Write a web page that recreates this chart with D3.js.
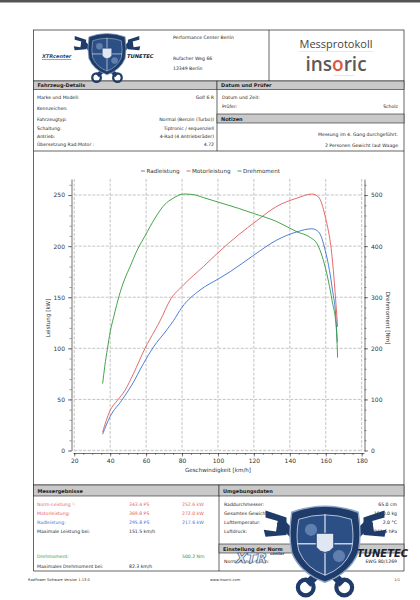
<!DOCTYPE html>
<html>
<head>
<meta charset="utf-8">
<script src="https://cdn.jsdelivr.net/npm/d3@7"></script>
<style>
  body { margin: 0; background: #fff; }
  text { font-family: "DejaVu Sans", Verdana, sans-serif; }
</style>
</head>
<body>
<div id="page"></div>
<script>
// ---- chart data (read from the protocol) ----
const radSpeed = [35.8, 39.9, 46.4, 52.0, 58.5, 64.0, 71.5, 75.2, 79.9, 90.0, 100.3, 106.8, 119.8, 132.8, 144.0, 152.3, 156.0, 159.7, 163.5, 165.9, 166.4];
const radKW    = [16, 33, 49, 64, 85, 101, 118, 127, 140, 157, 168, 175, 191, 206, 214, 217, 214, 196, 160, 123, 106];

const motorSpeed = [35.8, 39.9, 44.0, 48.3, 52.9, 59.4, 65.0, 67.8, 73.3, 80.8, 91.9, 100.3, 111.4, 121.7, 132.8, 144.0, 152.3, 156.0, 159.7, 163.5, 166.2, 166.6];
const motorKW    = [18, 39, 49, 59, 75, 100, 118, 127, 147, 162, 180, 194, 211, 225, 239, 247, 251, 248, 229, 190, 131, 121];

const torqueSpeed = [35.8, 37.0, 38.5, 40.0, 42.0, 45.0, 48.0, 51.1, 55.0, 59.4, 65.0, 70.0, 75.2, 80.8, 86.0, 91.9, 100.3, 111.4, 119.8, 132.8, 144.0, 151.4, 155.1, 159.7, 163.5, 165.9, 166.6];
const torqueNm    = [131, 165, 200, 232, 262, 303, 335, 360, 392, 420, 455, 480, 494, 502, 501, 495, 486, 474, 464, 448, 428, 417, 405, 359, 294, 239, 182];

const xTicks  = [20, 40, 60, 80, 100, 120, 140, 160, 180];
const kwTicks = [0, 50, 100, 150, 200, 250];
const nmTicks = [0, 100, 200, 300, 400, 500];
const legendLabels = ["Radleistung", "Motorleistung", "Drehmoment"];

// ---- table texts ----
const vehicleLabels = ["Marke und Modell:", "Kennzeichen:", "Fahrzeugtyp:", "Schaltung:", "Antrieb:", "Übersetzung Rad:Motor :"];
const vehicleValues = ["Golf 6 R", "", "Normal (Benzin (Turbo))", "Tiptronic / sequenziell", "4-Rad (4 Antriebsräder)", "4.72"];
const testerLabels = ["Datum und Zeit:", "Prüfer:"];
const testerValues = ["", "Scholz"];
const notes = ["Messung im 4. Gang durchgeführt.", "2 Personen Gewicht laut Waage"];

const resultLabels = ["Norm-Leistung ¹:", "Motorleistung:", "Radleistung:", "Maximale Leistung bei:", "", "Drehmoment:", "Maximales Drehmoment bei:"];
const resultPS     = ["343.4 PS", "369.8 PS", "295.8 PS", "151.5 km/h", "", "", "82.3 km/h"];
const resultKW     = ["252.6 kW", "272.0 kW", "217.6 kW", "", "", "500.2 Nm", ""];
const envLabels = ["Raddurchmesser:", "Gesamtes Gewicht:", "Lufttemperatur:", "Luftdruck:"];
const envValues = ["65.0 cm", "1640.0 kg", "2.0 °C", "1011.6 hPa"];
const normLabels = ["Normierungs-Norm:"];
const normValues = ["EWG 80/1269"];

const blue = "#3c6fd1", red = "#e05a5a", green = "#2f9a35";

const svg = d3.select("#page").append("svg")
    .attr("width", 420)
    .attr("height", 600);

svg.append("rect").attr("width", 420).attr("height", 2.5).attr("fill", "#555");

// ---------- frame & table skeleton ----------
const L = 33.5, R = 404, MID = 217, MID2 = 219;
const frame = svg.append("g").attr("stroke", "#222").attr("stroke-width", 0.7).attr("fill", "none");

function greyBand(x1, x2, y1, y2, label) {
    svg.append("rect")
        .attr("x", x1).attr("y", y1).attr("width", x2 - x1).attr("height", y2 - y1)
        .attr("fill", "#c9c9c9").attr("stroke", "#222").attr("stroke-width", 0.6);
    svg.append("text")
        .attr("x", x1 + 4).attr("y", (y1 + y2) / 2 + 2)
        .attr("font-size", 5).attr("font-weight", "bold").attr("fill", "#222")
        .text(label);
}

frame.append("rect").attr("x", L).attr("y", 30).attr("width", R - L).attr("height", 51);
frame.append("line").attr("x1", 269).attr("x2", 269).attr("y1", 30).attr("y2", 81);
frame.append("line").attr("x1", L).attr("x2", L).attr("y1", 81).attr("y2", 571);
frame.append("line").attr("x1", R).attr("x2", R).attr("y1", 81).attr("y2", 571);
frame.append("line").attr("x1", MID).attr("x2", MID).attr("y1", 81).attr("y2", 151);
frame.append("line").attr("x1", L).attr("x2", R).attr("y1", 151).attr("y2", 151);
frame.append("line").attr("x1", L).attr("x2", R).attr("y1", 485).attr("y2", 485);
frame.append("line").attr("x1", MID2).attr("x2", MID2).attr("y1", 485).attr("y2", 571);
frame.append("line").attr("x1", L).attr("x2", R).attr("y1", 571).attr("y2", 571);

greyBand(L, MID, 81, 89.5, "Fahrzeug-Details");
greyBand(MID, R, 81, 89.5, "Datum und Prüfer");
greyBand(MID, R, 114, 123, "Notizen");
greyBand(L, MID2, 485, 496, "Messergebnisse");
greyBand(MID2, R, 485, 496, "Umgebungsdaten");
greyBand(MID2, R, 544, 553, "Einstellung der Norm");

function rows(labels, values, xl, xr, ys, colors) {
    labels.forEach((t, i) => {
        let c = colors ? colors[i] : "#222";
        svg.append("text").attr("x", xl).attr("y", ys[i] + 2)
            .attr("font-size", 4.6).attr("fill", c).text(t);
        svg.append("text").attr("x", xr).attr("y", ys[i] + 2)
            .attr("font-size", 4.6).attr("fill", c).attr("text-anchor", "end").text(values[i]);
    });
}

rows(vehicleLabels, vehicleValues, 37, 214, [97, 108, 119, 128, 136, 144]);
rows(testerLabels, testerValues, 222, 398, [97, 106]);
notes.forEach((t, i) => {
    svg.append("text").attr("x", 398).attr("y", [134, 145][i] + 2)
        .attr("font-size", 4.6).attr("fill", "#222").attr("text-anchor", "end").text(t);
});

const resultColors = ["#e06a6a", red, blue, "#222", "#222", green, "#222"];
const resultY = [504, 513, 522, 531, 544, 556, 566];
resultLabels.forEach((t, i) => {
    let g = svg.append("g").attr("font-size", 4.6).attr("fill", resultColors[i]);
    g.append("text").attr("x", 37).attr("y", resultY[i] + 2).text(t);
    g.append("text").attr("x", 129).attr("y", resultY[i] + 2).text(resultPS[i]);
    g.append("text").attr("x", 182).attr("y", resultY[i] + 2).text(resultKW[i]);
});
rows(envLabels, envValues, 224, 397, [504, 513, 522, 531]);
rows(normLabels, normValues, 224, 397, [561]);

// footer
svg.append("text").attr("x", 28).attr("y", 581).attr("font-size", 3.6).attr("fill", "#333").text("RadPower Software Version 1.13.0");
svg.append("text").attr("x", 210).attr("y", 581).attr("font-size", 3.6).attr("fill", "#333").text("www.insoric.com");
svg.append("text").attr("x", 400).attr("y", 581).attr("font-size", 3.6).attr("fill", "#333").attr("text-anchor", "end").text("1/1");

// ---------- header ----------
svg.append("text").attr("x", 173).attr("y", 39).attr("font-size", 4.6).attr("fill", "#222").text("Performance Center Berlin");
svg.append("text").attr("x", 173).attr("y", 60).attr("font-size", 4.6).attr("fill", "#222").text("Rufacher Weg 66");
svg.append("text").attr("x", 173).attr("y", 70).attr("font-size", 4.6).attr("fill", "#222").text("12349 Berlin");

svg.append("text").attr("x", 336).attr("y", 48).attr("text-anchor", "middle")
    .attr("font-size", 11).attr("fill", "#444").style("font-family", "'Open Sans', sans-serif")
    .text("Messprotokoll");
svg.append("line").attr("x1", 298).attr("x2", 374).attr("y1", 51.5).attr("y2", 51.5)
    .attr("stroke", "#ddd").attr("stroke-width", 0.6);
let ins = svg.append("text").attr("x", 336).attr("y", 71).attr("text-anchor", "middle")
    .attr("font-size", 19).attr("fill", "#5a5a5a").style("font-family", "'Open Sans', sans-serif")
    .attr("font-weight", 600);
ins.append("tspan").text("ins");
ins.append("tspan").attr("fill", "#e2553b").text("o");
ins.append("tspan").text("ric");
svg.append("text").attr("x", 344).attr("y", 75.5).attr("text-anchor", "middle")
    .attr("font-size", 1.6).attr("fill", "#999").text("with precision measuring");

// ---------- logos ----------
function drawLogo(cx, cy, s) {
    let g = svg.append("g").attr("transform", `translate(${cx},${cy}) scale(${s})`);
    let navy = "#1f3b69";
    // wrenches (crossed, jaws at top, rings at bottom)
    [-1, 1].forEach(d => {
        g.append("path")
            .attr("d", `M ${d * 26},-12 L ${-d * 10},24`)
            .attr("stroke", navy).attr("stroke-width", 4.5);
        g.append("path")
            .attr("d", `M ${d * 22},-14 L ${d * 34},-18 L ${d * 34},-14 L ${d * 27},-12 L ${d * 28},-6 L ${d * 35},-7 L ${d * 34},-3 L ${d * 22},-4 Z`)
            .attr("fill", navy);
        g.append("circle").attr("cx", -d * 11).attr("cy", 26).attr("r", 4.5)
            .attr("fill", "none").attr("stroke", navy).attr("stroke-width", 2.4);
    });
    // shield
    g.append("path")
        .attr("d", "M -19,-17 Q 0,-24 19,-17 Q 21,-4 19,6 Q 14,18 0,23 Q -14,18 -19,6 Q -21,-4 -19,-17 Z")
        .attr("fill", navy).attr("stroke", "#8ea6c8").attr("stroke-width", 0.8);
    g.append("path")
        .attr("d", "M -15,-13 Q 0,-18 15,-13 Q 17,-3 15,5 Q 11,15 0,19 Q -11,15 -15,5 Q -17,-3 -15,-13 Z")
        .attr("fill", "#2c4f86").attr("stroke", "#c3d2e6").attr("stroke-width", 0.5);
    g.append("line").attr("x1", -16).attr("x2", 16).attr("y1", 1).attr("y2", 1).attr("stroke", "#c3d2e6").attr("stroke-width", 0.8);
    g.append("line").attr("x1", 0).attr("x2", 0).attr("y1", -16).attr("y2", 19).attr("stroke", "#c3d2e6").attr("stroke-width", 0.8);
    g.append("path")
        .attr("d", "M -5,-5 L 5,-5 L 5,3 Q 0,9 -5,3 Z")
        .attr("fill", "#dfe7f2").attr("stroke", navy).attr("stroke-width", 0.5);
    g.append("circle").attr("cx", -8).attr("cy", -7).attr("r", 3.5).attr("fill", "#5f7fae");
    g.append("circle").attr("cx", 8).attr("cy", 8).attr("r", 3.5).attr("fill", "#5f7fae");
    return g;
}

drawLogo(107, 53, 0.95);
svg.append("text").attr("x", 42).attr("y", 58).attr("font-size", 5).attr("font-style", "italic")
    .attr("font-weight", "bold").attr("fill", "#2a4a7a").attr("text-decoration", "underline").text("XTRcenter");
svg.append("text").attr("x", 127).attr("y", 58).attr("font-size", 5.2).attr("font-style", "italic")
    .attr("font-weight", "bold").attr("fill", "#222").text("TUNETEC");

// ---------- chart ----------
const x = d3.scaleLinear().domain([19.3, 181.3]).range([73, 364]);
const yL = d3.scaleLinear().domain([0, 265.7]).range([450.5, 179]);
const yR = d3.scaleLinear().domain([0, 531.4]).range([450.5, 179]);

const chart = svg.append("g");

// grid
chart.selectAll(".vgrid").data(xTicks).enter().append("line")
    .attr("x1", d => x(d)).attr("x2", d => x(d))
    .attr("y1", yL(265.7)).attr("y2", yL(0))
    .attr("stroke", "#9a9a9a").attr("stroke-width", 0.6).attr("stroke-dasharray", "3,1.5");
chart.selectAll(".hgrid").data(kwTicks).enter().append("line")
    .attr("x1", x(20)).attr("x2", x(180))
    .attr("y1", d => yL(d)).attr("y2", d => yL(d))
    .attr("stroke", d => d === 0 ? "#cfcfcf" : "#9a9a9a").attr("stroke-width", d => d === 0 ? 1.5 : 0.6)
    .attr("stroke-dasharray", "3,1.5");

// axes
function styleAxis(g) {
    g.select(".domain").attr("stroke", "#333").attr("stroke-width", 0.7);
    g.selectAll(".tick line").attr("stroke", "#333").attr("stroke-width", 0.6);
    g.selectAll("text").attr("font-size", 6).attr("fill", "#333")
        .style("font-family", "'DejaVu Sans', Verdana, sans-serif");
}

const minorX = d3.range(20, 181, 5);
chart.append("g").attr("transform", "translate(0,453)")
    .call(d3.axisBottom(x).tickValues(minorX).tickSize(2).tickFormat(""))
    .call(g => g.select(".domain").remove())
    .selectAll("line").attr("stroke", "#333").attr("stroke-width", 0.5);
chart.append("g").attr("transform", "translate(0,453)")
    .call(d3.axisBottom(x).tickValues(xTicks).tickSize(3.5).tickPadding(2.5).tickSizeOuter(0))
    .call(styleAxis);

chart.append("g").attr("transform", "translate(71.5,0)")
    .call(d3.axisLeft(yL).tickValues(d3.range(0, 266, 10)).tickSize(2).tickFormat(""))
    .call(g => g.select(".domain").remove())
    .selectAll("line").attr("stroke", "#333").attr("stroke-width", 0.5);
chart.append("g").attr("transform", "translate(71.5,0)")
    .call(d3.axisLeft(yL).tickValues(kwTicks).tickSize(3.5).tickPadding(3).tickSizeOuter(0))
    .call(styleAxis);

chart.append("g").attr("transform", "translate(364.5,0)")
    .call(d3.axisRight(yR).tickValues(d3.range(0, 531, 20)).tickSize(2).tickFormat(""))
    .call(g => g.select(".domain").remove())
    .selectAll("line").attr("stroke", "#333").attr("stroke-width", 0.5);
chart.append("g").attr("transform", "translate(364.5,0)")
    .call(d3.axisRight(yR).tickValues(nmTicks).tickSize(3.5).tickPadding(3).tickSizeOuter(0))
    .call(styleAxis);

// axis titles
chart.append("text").attr("transform", "translate(50,318) rotate(-90)")
    .attr("text-anchor", "middle").attr("font-size", 5.6).attr("fill", "#333").text("Leistung [kW]");
chart.append("text").attr("transform", "translate(386,318) rotate(90)")
    .attr("text-anchor", "middle").attr("font-size", 5.6).attr("fill", "#333").text("Drehmoment [Nm]");
chart.append("text").attr("x", 218).attr("y", 472)
    .attr("text-anchor", "middle").attr("font-size", 5.6).attr("fill", "#333").text("Geschwindigkeit [km/h]");

// curves
const series = [
    {xs: radSpeed, ys: radKW, scale: yL, color: blue},
    {xs: motorSpeed, ys: motorKW, scale: yL, color: red},
    {xs: torqueSpeed, ys: torqueNm, scale: yR, color: green}
];
series.forEach(s => {
    let line = d3.line()
        .x((d, i) => x(s.xs[i]))
        .y(d => s.scale(d))
        .curve(d3.curveMonotoneX);
    chart.append("path")
        .datum(s.ys)
        .attr("d", line)
        .attr("fill", "none")
        .attr("stroke", s.color)
        .attr("stroke-width", 0.9);
});

// legend
const legend = chart.append("g").attr("transform", "translate(141,173)");
let lx = 0;
legendLabels.forEach((t, i) => {
    legend.append("line").attr("x1", lx).attr("x2", lx + 4).attr("y1", -2).attr("y2", -2)
        .attr("stroke", [blue, red, green][i]).attr("stroke-width", 0.9);
    let txt = legend.append("text").attr("x", lx + 5.5).attr("y", 0)
        .attr("font-size", 5.6).attr("fill", "#333").text(t);
    lx += 5.5 + txt.node().getComputedTextLength() + 7;
});

// ---------- overlay logo (bottom right) ----------
drawLogo(325, 542, 1.75);
svg.append("text").attr("x", 236).attr("y", 563).attr("font-size", 14).attr("font-style", "italic")
    .attr("font-weight", "bold").attr("fill", "#e8eef7").attr("stroke", "#2a4a7a").attr("stroke-width", 0.6)
    .text("XTR");
svg.append("text").attr("x", 270).attr("y", 555).attr("font-size", 4).attr("font-style", "italic")
    .attr("font-weight", "bold").attr("fill", "#2a4a7a").text("center");
svg.append("text").attr("x", 357).attr("y", 557).attr("font-size", 10).attr("font-style", "italic")
    .attr("font-weight", "bold").attr("fill", "#1b2230").text("TUNETEC");
</script>
</body>
</html>
